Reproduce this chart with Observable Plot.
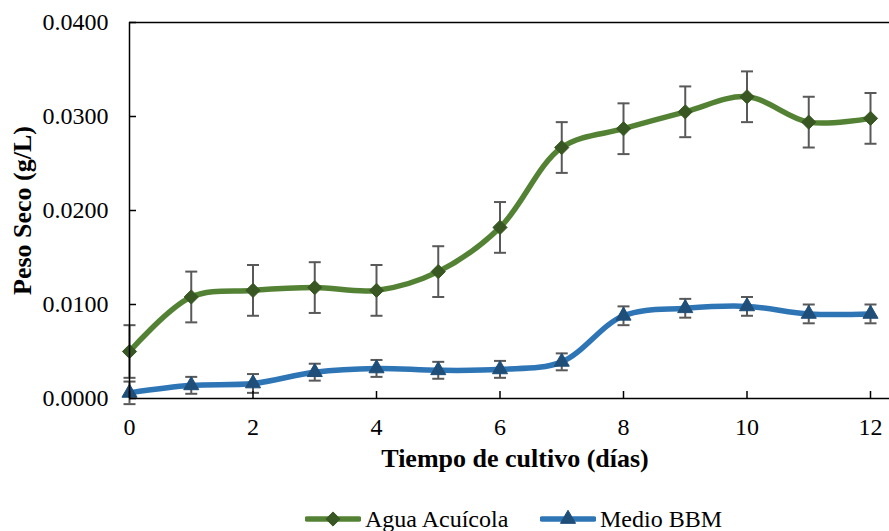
<!DOCTYPE html>
<html>
<head>
<meta charset="utf-8">
<script src="https://cdn.jsdelivr.net/npm/d3@7"></script>
<script src="https://cdn.jsdelivr.net/npm/@observablehq/plot@0.6"></script>
<style>
  body { margin: 0; background: #fff; font-family: 'Liberation Serif', 'Times New Roman', serif; }
  #wrap { width: 889px; height: 531px; overflow: hidden; position: relative; }
  #legend { position: absolute; left: 0; top: 500px; height: 38px; width: 889px; display: flex; align-items: center; font-size: 24px; color: #000; }
  .item { display: flex; align-items: center; }
</style>
</head>
<body>
<div id="wrap">
  <div id="chart"></div>
  <div id="legend"></div>
</div>
<script>
const days = [0, 1, 2, 3, 4, 5, 6, 7, 8, 9, 10, 11, 12];
const aguaAcuicola = [0.0050, 0.0108, 0.0115, 0.0118, 0.0115, 0.0135, 0.0182, 0.0267, 0.0287, 0.0305, 0.0321, 0.0294, 0.0298];
const aguaErr = [0.0028, 0.0027, 0.0027, 0.0027, 0.0027, 0.0027, 0.0027, 0.0027, 0.0027, 0.0027, 0.0027, 0.0027, 0.0027];
const medioBBM = [0.0006, 0.0014, 0.0016, 0.0028, 0.0032, 0.0030, 0.0031, 0.0039, 0.0088, 0.0096, 0.0098, 0.0090, 0.0090];
const bbmErr = [0.0012, 0.0009, 0.0010, 0.0009, 0.0009, 0.0009, 0.0009, 0.0009, 0.0010, 0.0010, 0.0010, 0.0010, 0.0010];
const xTicks = [0, 2, 4, 6, 8, 10, 12];
const yTicks = [0, 0.01, 0.02, 0.03, 0.04];
const seriesNames = ["Agua Acuícola", "Medio BBM"];
const xLabel = "Tiempo de cultivo (días)";
const yLabel = "Peso Seco (g/L)";

const colors = {
  "Agua Acuícola": {line: "#548235", mark: "#385723", symbol: "diamond2", r: 6.4},
  "Medio BBM": {line: "#2E75B6", mark: "#1F4E79", symbol: "triangle", r: 5.6}
};

const rows = [];
days.forEach((d, i) => {
  rows.push({series: seriesNames[0], day: d, v: aguaAcuicola[i], e: aguaErr[i]});
  rows.push({series: seriesNames[1], day: d, v: medioBBM[i], e: bbmErr[i]});
});

const capSymbol = {
  draw(context, size) {
    const w = 6;
    context.moveTo(-w, 0);
    context.lineTo(w, 0);
  }
};

const yDomain = [0, 0.04];

const plot = Plot.plot({
  width: 889,
  height: 500,
  marginLeft: 129,
  marginRight: 19,
  marginTop: 22,
  marginBottom: 102,
  style: {fontFamily: "'Liberation Serif', 'Times New Roman', serif", fontSize: "24px", color: "#000", background: "#fff"},
  x: {domain: [0, 12]},
  y: {domain: yDomain},
  marks: [
    // smoothed lines
    ...seriesNames.map(s => Plot.line(rows.filter(r => r.series === s), {
      x: "day", y: "v", stroke: colors[s].line, strokeWidth: 5.5, curve: "catmull-rom"
    })),
    // error bars
    Plot.ruleX(rows, {x: "day", y1: d => d.v - d.e, y2: d => d.v + d.e, stroke: "#595959", strokeWidth: 2}),
    Plot.dot(rows, {x: "day", y: d => d.v + d.e, symbol: capSymbol, stroke: "#595959", strokeWidth: 2, fill: "none", r: 1}),
    Plot.dot(rows, {x: "day", y: d => d.v - d.e, symbol: capSymbol, stroke: "#595959", strokeWidth: 2, fill: "none", r: 1}),
    // markers
    ...seriesNames.map(s => Plot.dot(rows.filter(r => r.series === s), {
      x: "day", y: "v", symbol: colors[s].symbol, r: colors[s].r, fill: colors[s].mark, stroke: colors[s].mark, strokeWidth: 1
    })),
    // frame lines
    Plot.ruleY([yDomain[1]], {stroke: "#000", strokeWidth: 1.5, insetRight: -19}),
    Plot.ruleY([yDomain[0]], {stroke: "#000", strokeWidth: 1.5, insetRight: -19}),
    Plot.ruleX([0], {stroke: "#000", strokeWidth: 1.5}),
    // y axis: inward tick marks + labels
    Plot.axisY({ticks: yTicks, tickSize: 7, dx: 7, text: null, stroke: "#000", strokeWidth: 1.5, label: null}),
    Plot.axisY({ticks: yTicks, tickSize: 0, tickPadding: 21, tickFormat: d => d.toFixed(4), label: null, fill: "#000"}),
    // x axis: inward tick marks + labels
    Plot.axisX({ticks: xTicks, tickSize: 7, dy: -7, text: null, stroke: "#000", strokeWidth: 1.5, label: null}),
    Plot.axisX({ticks: xTicks, tickSize: 0, tickPadding: 19, tickFormat: d => String(d), label: null, fill: "#000"}),
    // axis titles
    Plot.text([xLabel], {frameAnchor: "bottom", dy: 68, dx: 15, text: d => d, fontWeight: "bold", fontSize: 26, fill: "#000"}),
    Plot.text([yLabel], {frameAnchor: "left", dx: -107, rotate: -90, textAnchor: "middle", text: d => d, fontWeight: "bold", fontSize: 26, fill: "#000"})
  ]
});
document.getElementById("chart").appendChild(plot);

// Legend
const legend = document.getElementById("legend");
const legendLefts = [305, 540];
seriesNames.forEach((s, i) => {
  const item = document.createElement("div");
  item.className = "item";
  item.style.position = "absolute";
  item.style.left = legendLefts[i] + "px";
  const c = colors[s];
  const sym = c.symbol === "diamond2" ? d3.symbolDiamond2 : d3.symbolTriangle;
  const path = d3.symbol(sym, Math.PI * c.r * c.r)();
  item.innerHTML = `<svg width="56" height="20" style="margin-right:4px"><line x1="2" x2="54" y1="10" y2="10" stroke="${c.line}" stroke-width="5.5" stroke-linecap="round"/><path d="${path}" transform="translate(28,10)" fill="${c.mark}" stroke="${c.mark}"/></svg><span>${s}</span>`;
  legend.appendChild(item);
});
</script>
</body>
</html>
